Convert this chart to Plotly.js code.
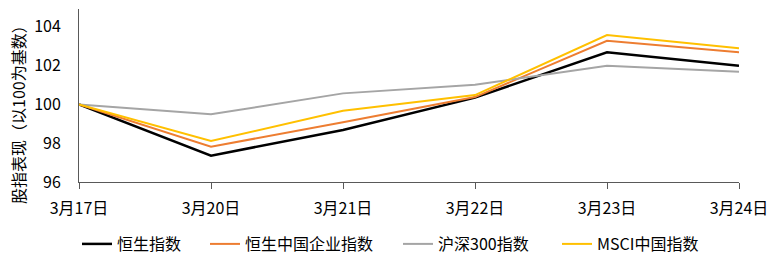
<!DOCTYPE html>
<html>
<head>
<meta charset="utf-8">
<script src="https://cdn.plot.ly/plotly-3.0.1.min.js"></script>
<style>html,body{margin:0;padding:0;background:#fff;}#chart{width:772px;height:262px;}</style>
</head>
<body>
<div id="chart"></div>
<script>
const dates = ['3月17日', '3月20日', '3月21日', '3月22日', '3月23日', '3月24日'];
const seriesNames = ['恒生指数', '恒生中国企业指数', '沪深300指数', 'MSCI中国指数'];
const hsi = [100, 97.36, 98.68, 100.35, 102.69, 101.99];
const hscei = [100, 97.82, 99.08, 100.38, 103.28, 102.69];
const csi300 = [100, 99.49, 100.57, 101.02, 101.99, 101.69];
const msci = [100, 98.11, 99.67, 100.48, 103.58, 102.90];
const yTicks = [96, 98, 100, 102, 104];
const yTitle = '股指表现（以100为基数）';

const FONT = '"Noto Sans CJK SC", "Noto Sans", sans-serif';
const colors = ['#000000', '#ED7D31', '#A5A5A5', '#FFC000'];
const widths = [2.5, 2, 2, 2];
const data = [hsi, hscei, csi300, msci];
const legendX = [82, 210, 403, 562];
const legendKeys = ['legend', 'legend2', 'legend3', 'legend4'];

const traces = data.map((ys, i) => ({
  type: 'scatter', mode: 'lines', x: dates, y: ys, name: seriesNames[i],
  line: {color: colors[i], width: widths[i]},
  legend: legendKeys[i], showlegend: true
}));

const layout = {
  width: 772, height: 262,
  margin: {l: 79, r: 33, t: 9, b: 80},
  paper_bgcolor: '#fff', plot_bgcolor: '#fff',
  font: {family: FONT, size: 16, color: '#000'},
  xaxis: {
    type: 'category', range: [0, 5], showgrid: false, zeroline: false,
    showline: true, linecolor: '#595959', linewidth: 1,
    ticks: 'outside', ticklen: 6, tickcolor: '#595959', tickwidth: 1,
    tickfont: {family: FONT, size: 16, color: '#000'},
    ticklabelstandoff: 6
  },
  yaxis: {
    range: [96, 104.92], tickvals: yTicks, showgrid: false, zeroline: false,
    showline: true, linecolor: '#595959', linewidth: 1, ticks: '',
    tickfont: {family: FONT, size: 16, color: '#000'},
    ticklabelstandoff: 14
  },
  annotations: [{
    text: yTitle, textangle: -90, showarrow: false,
    xref: 'paper', yref: 'paper', x: (18 - 79) / 660, y: (182 - 111) / 173,
    xanchor: 'center', yanchor: 'middle',
    font: {family: FONT, size: 16, color: '#000'}
  }]
};
legendKeys.forEach((k, i) => {
  layout[k] = {
    orientation: 'h', xref: 'container', yref: 'container',
    x: (legendX[i] - 5) / 772, y: 1 - 244 / 262, xanchor: 'left', yanchor: 'middle',
    font: {family: FONT, size: 16, color: '#000'}, bgcolor: 'rgba(0,0,0,0)'
  };
});

Plotly.newPlot('chart', traces, layout, {displayModeBar: false, staticPlot: true});
</script>
</body>
</html>
